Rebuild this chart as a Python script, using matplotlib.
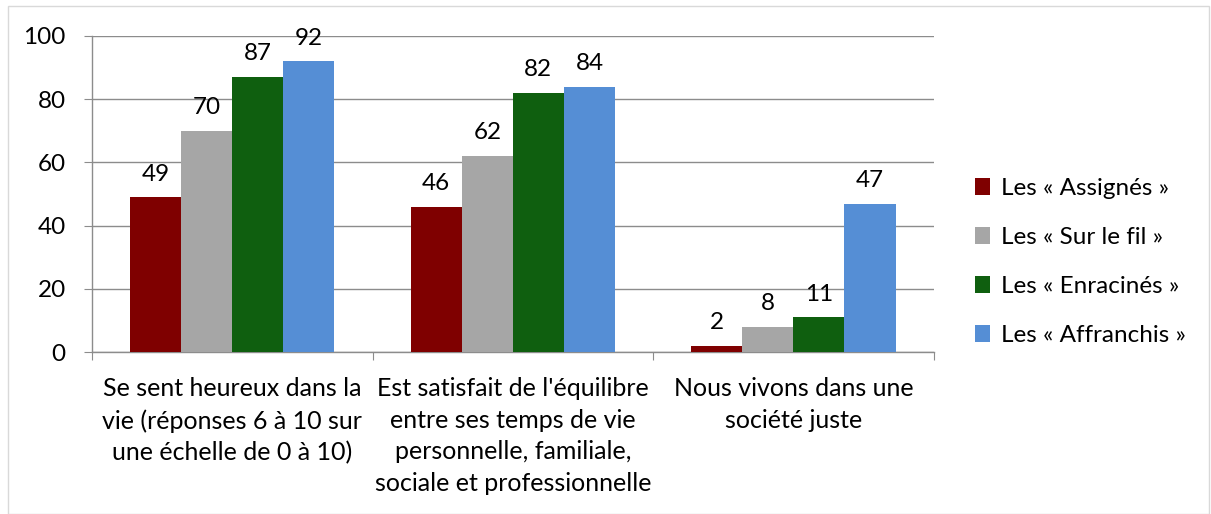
import numpy as np
import matplotlib.pyplot as plt
from matplotlib.patches import Rectangle

plt.rcParams['font.family'] = ['Lato', 'DejaVu Sans']

categories = ["Se sent heureux dans la\nvie (réponses 6 à 10 sur\nune échelle de 0 à 10)",
              "Est satisfait de l'équilibre\nentre ses temps de vie\npersonnelle, familiale,\nsociale et professionnelle",
              "Nous vivons dans une\nsociété juste"]
series = ["Les « Assignés »", "Les « Sur le fil »", "Les « Enracinés »", "Les « Affranchis »"]
assignes = [49, 46, 2]
sur_le_fil = [70, 62, 8]
enracines = [87, 82, 11]
affranchis = [92, 84, 47]
colors = ['#7f0000', '#a6a6a6', '#0f5f0f', '#558ed5']

values = [assignes, sur_le_fil, enracines, affranchis]

fig = plt.figure(figsize=(12.11, 5.14), dpi=100)
ax = fig.add_axes([0.076, 0.315, 0.695, 0.615])

x = np.arange(len(categories))
w = 0.182
for i, (name, vals) in enumerate(zip(series, values)):
    pos = x + (i - 1.5) * w
    bars = ax.bar(pos, vals, w, color=colors[i], label=name, zorder=3)
    for b, v in zip(bars, vals):
        ax.text(b.get_x() + b.get_width() / 2, v + 4, str(v), ha='center', va='bottom',
                fontsize=17.5, zorder=4)

ax.set_xlim(-0.5, 2.5)
ax.set_ylim(0, 100)
ax.set_yticks(range(0, 101, 20))
ax.yaxis.grid(True, color='#8c8c8c', linewidth=1, zorder=0)
for s in ['top', 'right']:
    ax.spines[s].set_visible(False)
for s in ['left', 'bottom']:
    ax.spines[s].set_color('#8c8c8c')
    ax.spines[s].set_linewidth(1)
ax.tick_params(axis='y', length=6, color='#8c8c8c', labelsize=17.5, pad=13)
ax.set_xticks([-0.5, 0.5, 1.5, 2.5])
ax.set_xticklabels([])
ax.tick_params(axis='x', length=6, color='#8c8c8c')
ax.set_xticks(x, minor=True)
ax.set_xticklabels(categories, minor=True, fontsize=18, linespacing=1.45)
ax.tick_params(axis='x', which='minor', length=0, pad=18)

ax.legend(loc='center left', bbox_to_anchor=(1.037, 0.285), frameon=False, fontsize=17.5,
          handlelength=0.65, handleheight=0.65, handletextpad=0.45, labelspacing=1.15,
          borderaxespad=0)

fig.patches.append(Rectangle((0.0066, 0.0), 0.992, 0.988, transform=fig.transFigure,
                             fill=False, edgecolor='#d9d9d9', linewidth=1))

fig.savefig('out.png', dpi=100)
